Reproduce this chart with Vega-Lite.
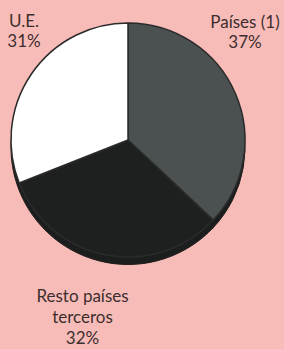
{
  "$schema": "https://vega.github.io/schema/vega-lite/v6.json",
  "width": 284,
  "height": 349,
  "autosize": {"type": "fit", "contains": "padding"},
  "padding": 0,
  "background": "#f8bcb8",
  "view": {"stroke": null},
  "data": {"values": [
    {"region": "Países (1)", "label": "Países (1)\n37%", "pct": 37, "orden": 1},
    {"region": "Resto países terceros", "label": "Resto países\nterceros\n32%", "pct": 32, "orden": 2},
    {"region": "U.E.", "label": "U.E.\n31%", "pct": 31, "orden": 3}
  ]},
  "transform": [
    {"stack": "pct", "groupby": [], "sort": [{"field": "orden"}], "as": ["t0", "t1"]}
  ],
  "layer": [
    {
      "mark": {"type": "arc", "radius": 117, "xOffset": -14, "yOffset": -27, "fill": "#1c1d1d", "stroke": "#1c1d1d", "strokeWidth": 1},
      "encoding": {
        "theta": {"field": "t0", "type": "quantitative", "stack": null, "scale": {"domain": [0, 100]}},
        "theta2": {"field": "t1"}
      }
    },
    {
      "mark": {"type": "arc", "radius": 117, "xOffset": -14, "yOffset": -34.5, "stroke": "#2b2b2b", "strokeWidth": 1.5, "strokeJoin": "round"},
      "encoding": {
        "theta": {"field": "t0", "type": "quantitative", "stack": null, "scale": {"domain": [0, 100]}},
        "theta2": {"field": "t1"},
        "color": {
          "field": "region", "type": "nominal", "legend": null,
          "scale": {"domain": ["Países (1)", "Resto países terceros", "U.E."], "range": ["#4b5151", "#1e1f1f", "#ffffff"]}
        }
      }
    },
    {
      "transform": [{"filter": "datum.orden == 1"}],
      "mark": {"type": "text", "radius": 150, "xOffset": -14, "yOffset": -36, "dx": 117, "dy": 34, "lineBreak": "\n", "align": "center", "baseline": "middle", "font": "Lato", "fontSize": 17, "lineHeight": 20, "fill": "#3d2e2e"},
      "encoding": {
        "theta": {"field": "t0", "type": "quantitative", "stack": null, "scale": {"domain": [0, 100]}},
        "text": {"field": "label"}
      }
    },
    {
      "transform": [{"filter": "datum.orden == 2"}],
      "mark": {"type": "text", "radius": 150, "xOffset": -14, "yOffset": -36, "dx": 94, "dy": 103, "lineBreak": "\n", "align": "center", "baseline": "middle", "font": "Lato", "fontSize": 17, "lineHeight": 21, "fill": "#3d2e2e"},
      "encoding": {
        "theta": {"field": "t1", "type": "quantitative", "stack": null, "scale": {"domain": [0, 100]}},
        "text": {"field": "label"}
      }
    },
    {
      "transform": [{"filter": "datum.orden == 3"}],
      "mark": {"type": "text", "radius": 150, "xOffset": -14, "yOffset": -36, "dx": -104, "dy": 33, "lineBreak": "\n", "align": "center", "baseline": "middle", "font": "Lato", "fontSize": 17, "lineHeight": 20, "fill": "#3d2e2e"},
      "encoding": {
        "theta": {"field": "t1", "type": "quantitative", "stack": null, "scale": {"domain": [0, 100]}},
        "text": {"field": "label"}
      }
    }
  ]
}
